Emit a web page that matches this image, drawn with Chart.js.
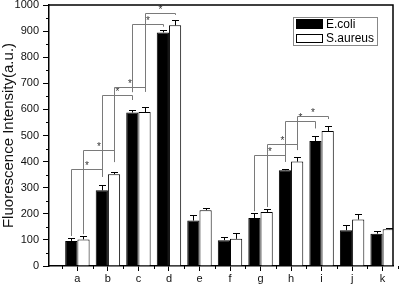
<!DOCTYPE html>
<html>
<head>
<meta charset="utf-8">
<script src="https://cdn.jsdelivr.net/npm/chart.js@4.4.1/dist/chart.umd.min.js"></script>
<style>
  html, body { margin: 0; padding: 0; background: #fff; }
  #wrap { width: 400px; height: 285px; }
</style>
</head>
<body>
<div id="wrap"><canvas id="c" width="400" height="285"></canvas></div>
<script>
const categories = ['a', 'b', 'c', 'd', 'e', 'f', 'g', 'h', 'i', 'j', 'k'];
const ecoli      = [96, 290, 588, 895, 174, 99, 184, 367, 479, 137, 124];
const ecoliErr   = [11, 22, 8, 9, 20, 14, 19, 3, 18, 19, 12];
const saureus    = [102, 352, 590, 922, 214, 104, 207, 400, 517, 178, 141];
const saureusErr = [13, 9, 20, 20, 8, 24, 13, 18, 20, 23, 6];
const yTicks     = [0, 100, 200, 300, 400, 500, 600, 700, 800, 900, 1000];

// significance brackets: from category index (to the next one), series, levels in a.u.
const bracketCat    = [0, 0, 1, 1, 2, 2, 6, 6, 7, 7];
const bracketSeries = [0, 1, 0, 1, 0, 1, 0, 1, 0, 1];
const bracketTop    = [370, 444, 657, 684, 927, 970, 425, 466, 556, 575];
const bracketLeft   = [115, 122, 341, 399, 666, 670, 210, 226, 400, 450];
const bracketRight  = [344, 398, 636, 667, 917, 962, 399, 444, 527, 563];

const FONT = "'Liberation Sans', Arial, sans-serif";
const BRACKET = '#7a7a7a';

const extras = {
  id: 'extras',
  afterDatasetsDraw(chart) {
    const { ctx, chartArea: a, scales: { x, y } } = chart;
    ctx.save();

    // error bars (upper only)
    const errs = [ecoliErr, saureusErr];
    const vals = [ecoli, saureus];
    ctx.strokeStyle = '#000';
    ctx.lineWidth = 1;
    [0, 1].forEach(di => {
      chart.getDatasetMeta(di).data.forEach((el, i) => {
        const top = Math.round(y.getPixelForValue(vals[di][i] + errs[di][i])) + 0.5;
        const bx = Math.round(el.x) + 0.5;
        ctx.beginPath();
        ctx.moveTo(bx, el.y);
        ctx.lineTo(bx, top);
        ctx.moveTo(bx - 3.5, top);
        ctx.lineTo(bx + 3.5, top);
        ctx.stroke();
      });
    });

    // brackets with stars
    ctx.strokeStyle = BRACKET;
    ctx.fillStyle = '#333';
    ctx.font = '10px ' + FONT;
    ctx.textAlign = 'center';
    ctx.textBaseline = 'middle';
    bracketCat.forEach((c, k) => {
      const meta = chart.getDatasetMeta(bracketSeries[k]);
      const xl = Math.round(meta.data[c].x) + 0.5;
      const xr = Math.round(meta.data[c + 1].x) + 0.5;
      const yt = Math.round(y.getPixelForValue(bracketTop[k])) + 0.5;
      ctx.beginPath();
      ctx.moveTo(xl, y.getPixelForValue(bracketLeft[k]));
      ctx.lineTo(xl, yt);
      ctx.lineTo(xr, yt);
      ctx.lineTo(xr, y.getPixelForValue(bracketRight[k]));
      ctx.stroke();
      ctx.fillText('*', (xl + xr) / 2, yt - 3);
    });

    // frame (top and right sides)
    ctx.strokeStyle = '#000';
    ctx.lineWidth = 1.5;
    ctx.beginPath();
    ctx.moveTo(a.left, a.top);
    ctx.lineTo(a.right, a.top);
    ctx.lineTo(a.right, a.bottom);
    ctx.stroke();

    // minor ticks
    ctx.lineWidth = 1;
    for (let v = 50; v < 1000; v += 100) {
      const py = Math.round(y.getPixelForValue(v)) + 0.5;
      ctx.beginPath();
      ctx.moveTo(a.left - 3, py);
      ctx.lineTo(a.left, py);
      ctx.stroke();
    }
    for (let i = 0; i <= categories.length; i++) {
      const px = Math.round(x.getPixelForValue(i + 0.5)) + 0.5;
      ctx.beginPath();
      ctx.moveTo(px, a.bottom);
      ctx.lineTo(px, a.bottom + 3);
      ctx.stroke();
    }

    // legend
    const lx = a.right - 100, ly = a.top + 12;
    ctx.strokeStyle = '#888';
    ctx.strokeRect(lx + 0.5, ly + 0.5, 84, 28);
    ctx.fillStyle = '#000';
    ctx.fillRect(lx + 3, ly + 2, 27, 10);
    ctx.strokeStyle = '#000';
    ctx.fillStyle = '#fff';
    ctx.fillRect(lx + 3, ly + 17, 27, 9);
    ctx.strokeRect(lx + 3.5, ly + 17.5, 26, 8);
    ctx.fillStyle = '#000';
    ctx.font = '12px ' + FONT;
    ctx.textAlign = 'left';
    ctx.fillText('E.coli', lx + 33, ly + 7.5);
    ctx.fillText('S.aureus', lx + 33, ly + 21.5);

    ctx.restore();
  }
};

new Chart(document.getElementById('c'), {
  type: 'bar',
  data: {
    datasets: [
      {
        label: 'E.coli',
        data: ecoli.map((v, i) => ({ x: i + 1, y: v })),
        backgroundColor: '#000', borderColor: '#000', borderWidth: 1
      },
      {
        label: 'S.aureus',
        data: saureus.map((v, i) => ({ x: i + 1, y: v })),
        backgroundColor: '#fff', borderColor: '#000', borderWidth: 1
      }
    ]
  },
  options: {
    responsive: false,
    animation: false,
    categoryPercentage: 0.8,
    barPercentage: 1.0,
    layout: { padding: { top: 5, right: 7, left: 0, bottom: 0 } },
    plugins: { legend: { display: false }, tooltip: { enabled: false } },
    scales: {
      x: {
        type: 'linear', min: 0.07, max: 11.34, offset: false,
        afterBuildTicks: s => { s.ticks = categories.map((c, i) => ({ value: i + 1 })); },
        afterFit: s => { s.height = 19; s.paddingLeft = 0; s.paddingRight = 0; },
        grid: { drawOnChartArea: false, offset: false, tickLength: 5, tickColor: '#000', lineWidth: 1 },
        border: { color: '#000', width: 1.5 },
        ticks: {
          autoSkip: false, maxRotation: 0, padding: 1, color: '#111',
          font: { family: FONT, size: 11 },
          callback: v => categories[v - 1]
        }
      },
      y: {
        min: 0, max: 1000,
        afterBuildTicks: s => { s.ticks = yTicks.map(v => ({ value: v })); },
        afterFit: s => { s.width = 49; s.paddingTop = 0; s.paddingBottom = 0; },
        grid: { drawOnChartArea: false, tickLength: 6, tickColor: '#000', lineWidth: 1 },
        border: { color: '#000', width: 1.5 },
        ticks: { padding: 4, color: '#111', font: { family: FONT, size: 11 }, callback: v => String(v) },
        title: {
          display: true, text: 'Fluorescence Intensity(a.u.)', color: '#111',
          font: { family: FONT, size: 15 }, padding: 0
        }
      }
    }
  },
  plugins: [extras]
});
</script>
</body>
</html>
